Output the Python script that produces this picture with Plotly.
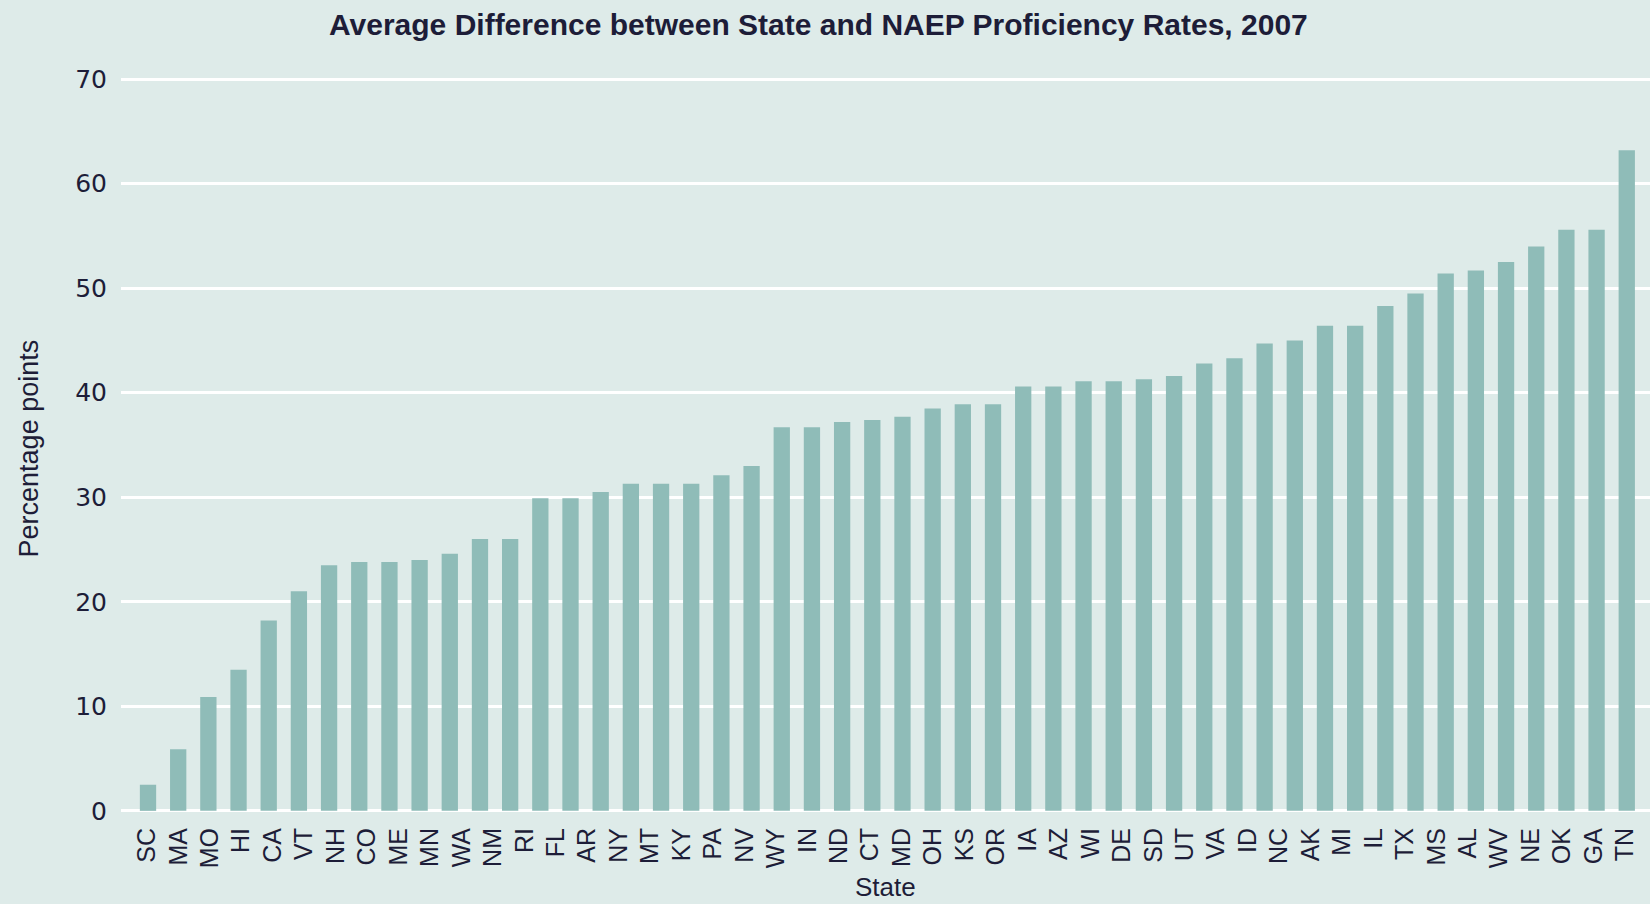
import plotly.graph_objects as go

# ---- data -------------------------------------------------------------
chart_title = "Average Difference between State and NAEP Proficiency Rates, 2007"
x_title = "State"
y_title = "Percentage points"

# tick labels printed under the axis (48 labels)
state_labels = [
    "SC", "MA", "MO", "HI", "CA", "VT", "NH", "CO", "ME", "MN", "WA", "NM",
    "RI", "FL", "AR", "NY", "MT", "KY", "PA", "NV", "WY", "IN", "ND", "CT",
    "MD", "OH", "KS", "OR", "IA", "AZ", "WI", "DE", "SD", "UT", "VA", "ID",
    "NC", "AK", "MI", "IL", "TX", "MS", "AL", "WV", "NE", "OK", "GA", "TN",
]

# bar heights (50 bars drawn in the original)
diff_values = [
    2.5, 5.9, 10.9, 13.5, 18.2, 21.0, 23.5, 23.8, 23.8, 24.0,
    24.6, 26.0, 26.0, 29.9, 29.9, 30.5, 31.3, 31.3, 31.3, 32.1,
    33.0, 36.7, 36.7, 37.2, 37.4, 37.7, 38.5, 38.9, 38.9, 40.6,
    40.6, 41.1, 41.1, 41.3, 41.6, 42.8, 43.3, 44.7, 45.0, 46.4,
    46.4, 48.3, 49.5, 51.4, 51.7, 52.5, 54.0, 55.6, 55.6, 63.2,
]

y_ticks = [0, 10, 20, 30, 40, 50, 60, 70]

# ---- style ------------------------------------------------------------
BG = "#deebe9"
BAR = "#8fbcb8"
TEXT = "#1d1d38"

bar_index = list(range(len(diff_values)))
label_index = list(range(len(state_labels)))

fig = go.Figure()
fig.add_trace(go.Bar(
    x=bar_index, y=diff_values,
    marker=dict(color=BAR, line=dict(width=0)),
    width=0.54,
    xaxis="x", yaxis="y",
    showlegend=False,
    hovertemplate="%{y}<extra></extra>",
))
# invisible helper trace that carries the state tick labels
fig.add_trace(go.Scatter(
    x=label_index, y=[0] * len(label_index),
    mode="markers", marker=dict(opacity=0, size=1),
    xaxis="x2", yaxis="y",
    showlegend=False, hoverinfo="skip",
))

fig.update_layout(
    width=1650, height=904,
    paper_bgcolor=BG, plot_bgcolor=BG,
    margin=dict(l=121, r=0, t=76, b=90),
    title=dict(
        text=chart_title,
        x=0.496, xref="container", xanchor="center",
        y=0.973, yref="container", yanchor="middle",
        font=dict(family="Liberation Sans", size=30, color=TEXT, weight="bold"),
    ),
    xaxis=dict(
        range=[-0.895, 49.77],
        showticklabels=False, showgrid=False, zeroline=False, showline=False,
        ticks="",
    ),
    xaxis2=dict(
        overlaying="x", side="bottom", anchor="y",
        range=[-0.827, 47.79],
        tickmode="array", tickvals=label_index, ticktext=state_labels,
        tickangle=-90,
        tickfont=dict(family="Liberation Sans", size=25, color=TEXT),
        ticklabelstandoff=8,
        showgrid=False, zeroline=False, showline=False, ticks="",
    ),
    yaxis=dict(
        range=[-0.3, 70.3],
        tickmode="array", tickvals=y_ticks,
        tickfont=dict(family="DejaVu Sans", size=25, color=TEXT),
        gridcolor="#ffffff", gridwidth=3,
        zeroline=False, showline=False, ticks="",
        ticklabelstandoff=13,
    ),
    annotations=[
        dict(
            text=y_title, textangle=-90,
            x=-0.0605, xref="paper", xanchor="center",
            y=0.496, yref="paper", yanchor="middle",
            showarrow=False,
            font=dict(family="Liberation Sans", size=27, color=TEXT),
        ),
        dict(
            text=x_title,
            x=0.5, xref="paper", xanchor="center",
            y=-0.0985, yref="paper", yanchor="middle",
            showarrow=False,
            font=dict(family="Liberation Sans", size=26, color=TEXT),
        ),
    ],
)

fig.write_html(
    "out.html",
    config={"displayModeBar": False},
    post_script="document.body.style.margin='0';",
)
